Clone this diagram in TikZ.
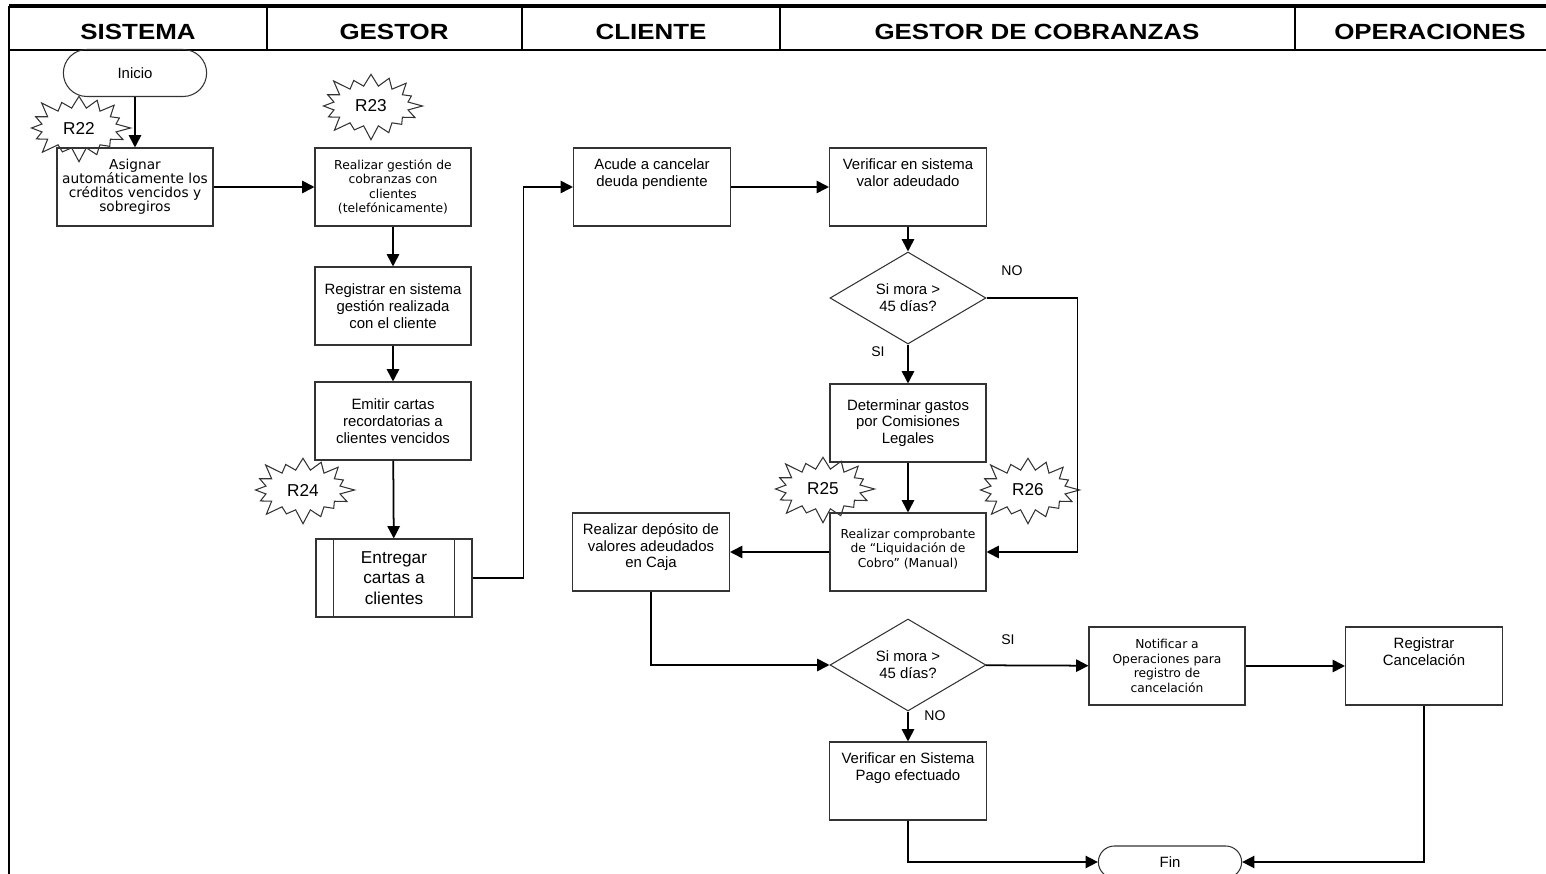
\documentclass[tikz,border=0pt]{standalone}
\usepackage{fontspec}
\setmainfont{Liberation Sans}
\newfontfamily\vfont{DejaVu Sans}
\newfontfamily\hfont{Liberation Sans}[FakeStretch=1.18]
\usetikzlibrary{arrows.meta,shapes.geometric,shapes.misc,shapes.symbols}

\newcommand{\toptxt}[1]{\parbox[c][1.4cm][t]{3cm}{\centering\rule{0pt}{10pt}#1}}

\tikzset{
  box/.style={draw=black!80, line width=0.6pt, minimum width=3.12cm, minimum height=1.56cm, inner sep=2pt, align=center, font=\fontsize{8.5}{9.5}\selectfont},
  sbox/.style={box, font=\vfont\fontsize{7}{8.2}\selectfont},
  term/.style={rounded rectangle, draw=black!80, line width=0.6pt, minimum width=3.1cm, font=\fontsize{8.5}{9.5}\selectfont},
  decision/.style={diamond, draw=black!80, line width=0.6pt, minimum width=3.12cm, minimum height=1.54cm, inner sep=0pt, align=center, font=\fontsize{8.5}{9.5}\selectfont},
  burst/.style={starburst, draw=black!80, line width=0.6pt, starburst points=16, starburst point height=0.32cm, minimum width=2.15cm, minimum height=1.45cm, inner sep=0pt, font=\fontsize{9.8}{11}\selectfont},
  lane/.style={font=\hfont\bfseries\fontsize{12.5}{14}\selectfont},
  tag/.style={font=\fontsize{8}{9}\selectfont},
  arr/.style={-{Triangle[length=7pt,width=7pt]}, line width=1pt},
}

\begin{document}
\begin{tikzpicture}[x=0.02cm, y=-0.02cm]
\clip (0,0) rectangle (1546,874);
% lanes
\draw[line width=2pt] (9,6) -- (1560,6);
\draw[line width=1.5pt] (9,50) -- (1560,50);
\draw[line width=1.2pt] (9,6) -- (9,900);
\foreach \x in {267,522,780,1295} \draw[line width=1pt] (\x,6) -- (\x,50);
\node[lane] (sistema) at (138,32) {SISTEMA};
\node[lane] (gestor) at (394,32) {GESTOR};
\node[lane] (cliente) at (651,32) {CLIENTE};
\node[lane] (cobranzas) at (1037,32) {GESTOR DE COBRANZAS};
\node[lane] (operaciones) at (1430,32) {OPERACIONES};

% steps
\node[term, minimum height=0.94cm] (inicio) at (135,73) {Inicio};
\node[sbox, font=\vfont\fontsize{7.8}{7.9}\selectfont] (asignar) at (135,187) {Asignar\\automáticamente los\\créditos vencidos y\\sobregiros};
\node[sbox] (gestion) at (393,187) {Realizar gestión de\\cobranzas con\\clientes\\(telefónicamente)};
\node[box] (registrar) at (393,306) {Registrar en sistema\\gestión realizada\\con el cliente};
\node[box] (emitir) at (393,421) {Emitir cartas\\recordatorias a\\clientes vencidos};
\node[box, font=\fontsize{9.8}{11.5}\selectfont] (entregar) at (394,578) {Entregar\\cartas a\\clientes};
\draw[line width=0.6pt, black!80] ([xshift=0.36cm]entregar.north west) -- ([xshift=0.36cm]entregar.south west);
\draw[line width=0.6pt, black!80] ([xshift=-0.36cm]entregar.north east) -- ([xshift=-0.36cm]entregar.south east);
\node[box] (acude) at (652,187) {\toptxt{Acude a cancelar\\deuda pendiente}};
\node[box] (versis) at (908,187) {\toptxt{Verificar en sistema\\valor adeudado}};
\node[decision] (mora1) at (908,298) {Si mora >\\45 días?};
\node[box] (determinar) at (908,423) {Determinar gastos\\por Comisiones\\Legales};
\node[sbox] (liquidacion) at (908,552) {Realizar comprobante\\de “Liquidación de\\Cobro” (Manual)\\[-4pt]};
\node[box] (deposito) at (651,552) {\toptxt{Realizar depósito de\\valores adeudados\\en Caja}};
\node[decision] (mora2) at (908,665) {Si mora >\\45 días?};
\node[sbox] (notificar) at (1167,666) {Notificar a\\Operaciones para\\registro de\\cancelación};
\node[box] (cancelacion) at (1424,666) {\toptxt{Registrar\\Cancelación}};
\node[box] (verpago) at (908,781) {\toptxt{Verificar en Sistema\\Pago efectuado}};
\node[term, minimum height=0.64cm] (fin) at (1170,862) {Fin};

% risks
\node[burst] (r22) at (79,128) {R22};
\node[burst] (r23) at (371,106) {R23};
\node[burst] (r24) at (303,490) {R24};
\node[burst] (r25) at (823,489) {R25};
\node[burst] (r26) at (1028,490) {R26};

\node[tag] (no1) at (1012,271) {NO};
\node[tag] (si1) at (878,352) {SI};
\node[tag] (si2) at (1008,640) {SI};
\node[tag] (no2) at (935,716) {NO};

\draw[arr] (inicio) -- (asignar);
\draw[arr] (asignar) -- (gestion);
\draw[arr] (gestion) -- (registrar);
\draw[arr] (registrar) -- (emitir);
\draw[arr] (emitir) -- (entregar);
\draw[arr] (entregar.east) -- ++(51,0) |- (acude.west);
\draw[arr] (acude) -- (versis);
\draw[arr] (versis) -- (mora1);
\draw[arr] (mora1.east) -- ++(91,0) |- (liquidacion.east);
\draw[arr] (mora1) -- (determinar);
\draw[arr] (determinar) -- (liquidacion);
\draw[arr] (liquidacion) -- (deposito);
\draw[arr] (deposito.south) |- (mora2.west);
\draw[arr] (mora2) -- (notificar);
\draw[arr] (notificar) -- (cancelacion);
\draw[arr] (mora2) -- (verpago);
\draw[arr] (verpago.south) |- (fin.west);
\draw[arr] (cancelacion.south) |- (fin.east);
\end{tikzpicture}
\end{document}
